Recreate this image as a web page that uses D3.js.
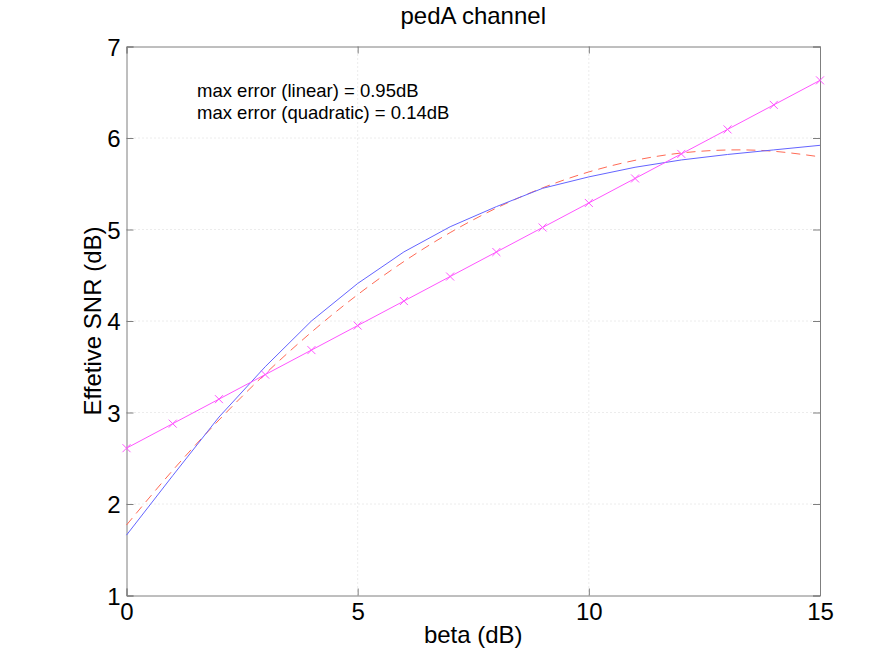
<!DOCTYPE html>
<html>
<head>
<meta charset="utf-8">
<script src="https://cdn.jsdelivr.net/npm/d3@7"></script>
<style>
  body { margin: 0; background: #fff; }
  text { font-family: "Liberation Sans", Arial, sans-serif; }
</style>
</head>
<body>
<svg width="892" height="666"></svg>
<script>
const beta = [0, 1, 2, 3, 4, 5, 6, 7, 8, 9, 10, 11, 12, 13, 14, 15];
const effSnr = [1.66, 2.31, 2.95, 3.50, 4.00, 4.41, 4.755, 5.03, 5.25, 5.45, 5.575, 5.68, 5.76, 5.82, 5.87, 5.92];
const quadFit = [1.77, 2.368, 2.918, 3.422, 3.878, 4.288, 4.65, 4.966, 5.234, 5.455, 5.629, 5.756, 5.836, 5.869, 5.855, 5.794];
const linFit = [2.61, 2.878, 3.146, 3.414, 3.682, 3.95, 4.218, 4.486, 4.754, 5.022, 5.29, 5.558, 5.826, 6.094, 6.362, 6.63];
const xTicks = [0, 5, 10, 15];
const yTicks = [1, 2, 3, 4, 5, 6, 7];
const notes = ["max error (linear) = 0.95dB", "max error (quadratic) = 0.14dB"];

const svg = d3.select("svg");
const plotLeft = 126.5, plotRight = 820, plotTop = 46.5, plotBottom = 595.5;

const x = d3.scaleLinear().domain([0, 15]).range([plotLeft, plotRight]);
const y = d3.scaleLinear().domain([1, 7]).range([plotBottom, plotTop]);

// dotted grid
const grid = svg.append("g").attr("stroke", "#d8d8d8").attr("stroke-dasharray", "1,3");
grid.selectAll(".gy").data(yTicks.slice(1, -1)).join("line")
  .attr("x1", plotLeft).attr("x2", plotRight)
  .attr("y1", d => y(d)).attr("y2", d => y(d));
grid.selectAll(".gx").data(xTicks.slice(1, -1)).join("line")
  .attr("y1", plotTop).attr("y2", plotBottom)
  .attr("x1", d => x(d)).attr("x2", d => x(d));

// axes with inward ticks
const fontSize = 24;
const axisColor = "#7f7f7f";
const fmt = d3.format("d");

const gx = svg.append("g").attr("transform", `translate(0,${plotBottom})`)
  .call(d3.axisBottom(x).tickValues(xTicks).tickFormat(fmt).tickSize(-7).tickPadding(10));
const gxTop = svg.append("g").attr("transform", `translate(0,${plotTop})`)
  .call(d3.axisTop(x).tickValues(xTicks).tickSize(-7).tickFormat(""));
const gy = svg.append("g").attr("transform", `translate(${plotLeft},0)`)
  .call(d3.axisLeft(y).tickValues(yTicks).tickFormat(fmt).tickSize(-7).tickPadding(6));
const gyRight = svg.append("g").attr("transform", `translate(${plotRight},0)`)
  .call(d3.axisRight(y).tickValues(yTicks).tickSize(-7).tickFormat(""));

[gx, gxTop, gy, gyRight].forEach(g => {
  g.select(".domain").attr("stroke", axisColor);
  g.selectAll(".tick line").attr("stroke", axisColor);
  g.selectAll(".tick text").attr("font-size", fontSize)
    .attr("font-family", "Liberation Sans, Arial, sans-serif").attr("fill", "#000");
});
gx.selectAll(".tick text").attr("dy", "0.6em");
gy.selectAll(".tick text").attr("dy", "0.36em");

// curves
const line = d3.line().x((d, i) => x(beta[i])).y(d => y(d));

svg.append("path").datum(quadFit)
  .attr("d", line.curve(d3.curveNatural))
  .attr("fill", "none").attr("stroke", "#ff6a55").attr("stroke-width", 1)
  .attr("stroke-dasharray", "9,6");

svg.append("path").datum(effSnr)
  .attr("d", line.curve(d3.curveLinear))
  .attr("fill", "none").attr("stroke", "#6464ff").attr("stroke-width", 1);

svg.append("path").datum(linFit)
  .attr("d", line.curve(d3.curveLinear))
  .attr("fill", "none").attr("stroke", "#ff55ff").attr("stroke-width", 1);

const m = 4;
svg.append("g").selectAll("path").data(linFit).join("path")
  .attr("d", (d, i) => {
    const cx = x(beta[i]), cy = y(d);
    return `M${cx - m},${cy - m}L${cx + m},${cy + m}M${cx - m},${cy + m}L${cx + m},${cy - m}`;
  })
  .attr("stroke", "#ff55ff").attr("stroke-width", 1);

// annotation
svg.append("g").selectAll("text").data(notes).join("text")
  .attr("x", 197).attr("y", (d, i) => 97 + i * 22)
  .attr("font-size", 18.5).text(d => d);

// titles
svg.append("text").attr("x", (plotLeft + plotRight) / 2).attr("y", 24)
  .attr("text-anchor", "middle").attr("font-size", fontSize).text("pedA channel");
svg.append("text").attr("x", (plotLeft + plotRight) / 2).attr("y", 643)
  .attr("text-anchor", "middle").attr("font-size", fontSize).text("beta (dB)");
svg.append("text")
  .attr("transform", `translate(101,${(plotTop + plotBottom) / 2}) rotate(-90)`)
  .attr("text-anchor", "middle").attr("font-size", fontSize).text("Effetive SNR (dB)");
</script>
</body>
</html>
